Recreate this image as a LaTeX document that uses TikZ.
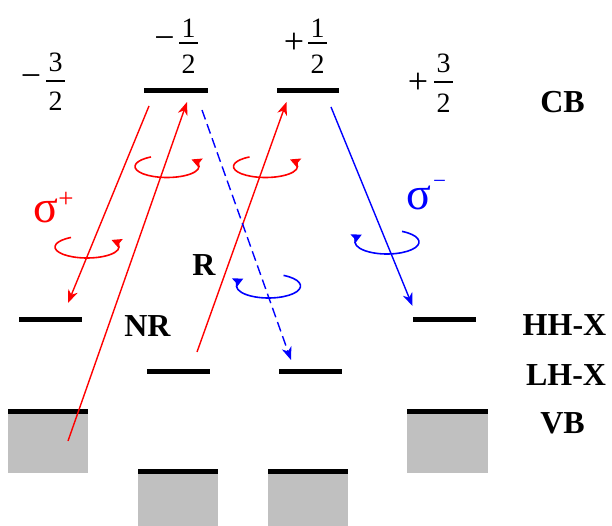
\documentclass[tikz,border=0pt]{standalone}
\usepackage{fontspec}
\setmainfont{Liberation Serif}
\usetikzlibrary{arrows.meta}
\definecolor{bandgray}{RGB}{192,192,192}
\begin{document}
\begin{tikzpicture}[x=1pt,y=-1pt,
  lvl/.style={line width=5pt},
  band/.style={fill=bandgray,draw=none},
  trans/.style={line width=1.4pt,-{Stealth[length=13pt,width=10pt,inset=4pt]}},
  circ/.style={line width=1.6pt,-{Stealth[length=10pt,width=10pt,inset=1.5pt]}},
  fr/.style={inner sep=0pt,font=\fontsize{28}{30}\selectfont},
  sgn/.style={inner sep=0pt,font=\fontsize{36}{38}\selectfont},
  fbar/.style={line width=1.2pt},
  lab/.style={inner sep=0pt,anchor=base,font=\fontsize{32}{36}\selectfont\bfseries},
  sig/.style={inner sep=0pt,anchor=base,font=\fontsize{46}{46}\selectfont},
  sup/.style={inner sep=0pt,font=\fontsize{27}{27}\selectfont}]
\useasboundingbox (0,0) rectangle (612,526);

% bands
\fill[band] (8,409) rectangle (88,473);
\fill[band] (407,409) rectangle (488,473);
\fill[band] (138,469) rectangle (218,526);
\fill[band] (268,469) rectangle (348,526);
\draw[lvl] (8,411.5) -- (88,411.5);
\draw[lvl] (407,411.5) -- (488,411.5);
\draw[lvl] (138,471.5) -- (218,471.5);
\draw[lvl] (268,471.5) -- (348,471.5);

% levels
\draw[lvl] (144,90.5) -- (208,90.5);
\draw[lvl] (277,90.5) -- (339,90.5);
\draw[lvl] (19,319.5) -- (82,319.5);
\draw[lvl] (413,319.5) -- (476,319.5);
\draw[lvl] (147,371.7) -- (210,371.7);
\draw[lvl] (279,371.7) -- (342,371.7);

% fractions
\node[sgn] (m1) at (31,81.5) {−};
\draw[fbar] (46,81) -- (65,81);
\node[fr,anchor=base] (n1) at (55.5,72) {3};
\node[fr,anchor=base] (d1) at (55.5,111) {2};

\node[sgn] (m2) at (164.5,43) {−};
\draw[fbar] (179,43) -- (198,43);
\node[fr,anchor=base] (n2) at (188.5,37.5) {1};
\node[fr,anchor=base] (d2) at (188.5,73.5) {2};

\node[sgn] (p3) at (294,43) {+};
\draw[fbar] (308,43) -- (327,43);
\node[fr,anchor=base] (n3) at (317.5,37.5) {1};
\node[fr,anchor=base] (d3) at (317.5,73.5) {2};

\node[sgn] (p4) at (418,83) {+};
\draw[fbar] (434,82) -- (453,82);
\node[fr,anchor=base] (n4) at (443.5,73) {3};
\node[fr,anchor=base] (d4) at (443.5,112.5) {2};

% labels
\node[lab] (cb) at (562.5,113) {CB};
\node[lab] (hh) at (564.5,335) {HH-X};
\node[lab] (lh) at (566,385) {LH-X};
\node[lab] (vb) at (562.5,433) {VB};
\node[lab] (nr) at (147.5,336) {NR};
\node[lab] (r) at (204,275) {R};

\node[sig,red] (sp) at (45.5,223) {σ};
\node[sup,red] (spp) at (66,200) {+};
\node[sig,blue] (sm) at (419,210) {σ};
\node[sup,blue,font=\fontsize{23}{23}\selectfont] (smm) at (439.5,184.5) {−};

% transition endpoints
\coordinate (a1) at (149,106);
\coordinate (b1) at (68,303);
\coordinate (a2) at (68,441);
\coordinate (b2) at (187,102);
\coordinate (a3) at (197,352);
\coordinate (b3) at (286.5,102);
\coordinate (a4) at (202,110);
\coordinate (b4) at (291,360);
\coordinate (a5) at (331,107);
\coordinate (b5) at (412.5,306);

\draw[trans,red] (a1) -- (b1);
\draw[trans,red] (a2) -- (b2);
\draw[trans,red] (a3) -- (b3);
\draw[trans,blue,dash pattern=on 10pt off 5pt] (a4) -- (b4);
\draw[trans,blue] (a5) -- (b5);

% circular polarisation arrows
\coordinate (e1) at (167,166.5);
\coordinate (e2) at (265.5,166.5);
\coordinate (e3) at (87,247);
\coordinate (e4) at (387,242);
\coordinate (e5) at (268.5,286);
\draw[circ,red] ([shift={(240:32 and 11)}]e1) arc[start angle=240,end angle=-40,x radius=32,y radius=11];
\draw[circ,red] ([shift={(240:32 and 11)}]e2) arc[start angle=240,end angle=-40,x radius=32,y radius=11];
\draw[circ,red] ([shift={(240:32 and 11)}]e3) arc[start angle=240,end angle=-40,x radius=32,y radius=11];
\draw[circ,blue] ([shift={(-62:32 and 12)}]e4) arc[start angle=-62,end angle=218,x radius=32,y radius=12];
\draw[circ,blue] ([shift={(-62:32 and 12)}]e5) arc[start angle=-62,end angle=218,x radius=32,y radius=12];
\end{tikzpicture}
\end{document}
